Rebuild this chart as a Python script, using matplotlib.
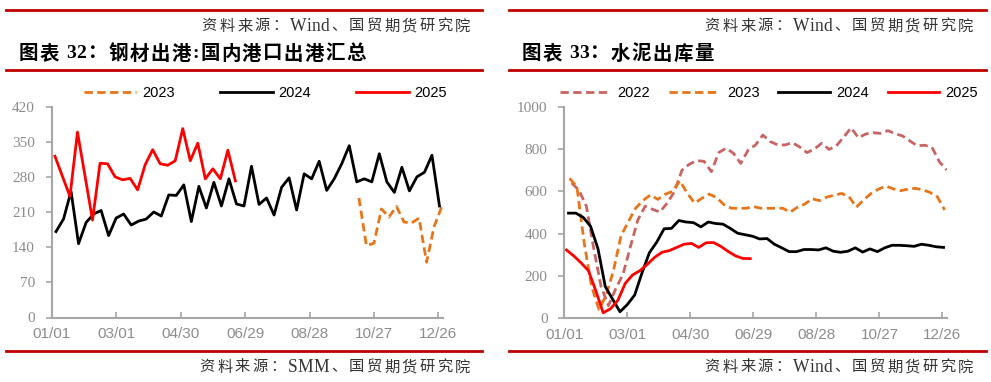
import matplotlib
matplotlib.use("Agg")
import matplotlib.pyplot as plt
from matplotlib.lines import Line2D
import pandas as pd

# ---------------- data ----------------
# Left chart: 钢材出港 (国内港口出港汇总), weekly, mapped onto a common calendar year
left_2023_start = "2023-10-14"
left_2023 = [238, 143, 148, 216, 200, 221, 190, 188, 198, 110, 181, 220]
left_2024_start = "2023-01-05"
left_2024 = [171, 196, 251, 147, 189, 206, 213, 163, 198, 206, 184, 192, 196, 210, 202,
             244, 243, 264, 191, 261, 218, 269, 222, 276, 226, 222, 301, 225, 238, 204,
             259, 278, 214, 286, 276, 311, 253, 276, 306, 342, 270, 276, 270, 326, 270,
             249, 299, 252, 280, 289, 323, 222]
left_2025_start = "2023-01-04"
left_2025 = [321, 281, 241, 369, 282, 194, 307, 306, 280, 274, 277, 254, 304, 334, 306,
             303, 312, 376, 312, 347, 276, 296, 276, 333, 272]

# Right chart: 水泥出库量, weekly
right_2022_start = "2023-01-08"
right_2022 = [640, 605, 530, 330, 150, 60, 140, 210, 340, 465, 530, 515, 502, 545, 600,
              700, 728, 745, 742, 693, 783, 804, 780, 732, 795, 819, 866, 835, 820, 819,
              830, 810, 783, 800, 827, 798, 815, 857, 900, 853, 871, 877, 874, 887, 872,
              862, 838, 815, 818, 808, 740, 701]
right_2023_start = "2023-01-06"
right_2023 = [661, 622, 354, 150, 42, 110, 230, 390, 457, 521, 557, 583, 562, 586, 600,
              650, 591, 545, 567, 587, 570, 537, 520, 520, 520, 528, 520, 520, 520, 520,
              502, 525, 540, 565, 556, 573, 582, 590, 575, 525, 560, 590, 610, 625, 612,
              603, 610, 614, 608, 595, 575, 512]
right_2024_start = "2023-01-05"
right_2024 = [497, 497, 477, 435, 330, 150, 90, 31, 65, 110, 215, 310, 360, 423, 425,
              462, 455, 452, 432, 455, 448, 445, 425, 402, 395, 388, 375, 377, 350, 333,
              315, 315, 325, 325, 323, 333, 317, 312, 317, 333, 313, 328, 315, 333, 345,
              345, 343, 340, 350, 345, 338, 335]
right_2025_start = "2023-01-03"
right_2025 = [323, 295, 262, 225, 130, 26, 45, 85, 165, 205, 225, 255, 288, 312, 320,
              335, 350, 354, 335, 357, 358, 340, 316, 295, 283, 282]

x_tick_labels = ["01/01", "03/01", "04/30", "06/29", "08/28", "10/27", "12/26"]
left_yticks = [0, 70, 140, 210, 280, 350, 420]
right_yticks = [0, 200, 400, 600, 800, 1000]

left_title = "图表 32：钢材出港:国内港口出港汇总"
right_title = "图表 33：水泥出库量"
src_wind = "资料来源：Wind、国贸期货研究院"
src_smm = "资料来源：SMM、国贸期货研究院"

# ---------------- style ----------------
C_ORANGE = "#E8751A"
C_ROSY = "#C86464"
C_BLACK = "#000000"
C_RED = "#FF0000"
C_BAR = "#C00000"
C_AXIS = "#A6A6A6"
C_TICK = "#8C8C8C"

CJK = ["Liberation Serif", "Noto Sans CJK SC", "DejaVu Sans"]

W, H = 991, 382
fig = plt.figure(figsize=(W / 100, H / 100), dpi=100)
renderer = fig.canvas.get_renderer()


def fx(px):
    return px / W


def fy(py):
    return 1 - py / H


def dates(start, n):
    return pd.date_range(start, periods=n, freq="7D")


def spaced_text(x_px, y_px, s, spacing, ha="left", latin_scale=1.0, **kw):
    """Draw text char by char with extra letter spacing around CJK characters."""
    base = kw.pop("fontsize", 10)
    sizes, widths = [], []
    for ch in s:
        size = base * (latin_scale if ch.isascii() and ch.isalpha() else 1.0)
        sizes.append(size)
        if ch == " ":
            widths.append(size * 1.389 * 0.3)
            continue
        t = fig.text(0, 0, ch, fontsize=size, **kw)
        widths.append(t.get_window_extent(renderer).width)
        t.remove()
    gaps = []
    for a, b in zip(s[:-1], s[1:]):
        gaps.append(0.0 if (a.isascii() and b.isascii()) else spacing)
    total = sum(widths) + sum(gaps)
    x = x_px - total if ha == "right" else x_px
    for i, (ch, w, size) in enumerate(zip(s, widths, sizes)):
        if ch != " ":
            fig.text(fx(x), fy(y_px), ch, ha="left", va="center", fontsize=size, **kw)
        x += w + (gaps[i] if i < len(gaps) else 0)


def setup_axes(ax, ylim, yticks):
    x0 = pd.Timestamp("2023-01-01")
    ax.set_xlim(x0, pd.Timestamp("2023-12-31"))
    ax.set_ylim(*ylim)
    ax.set_yticks(yticks)
    tick_dates = [x0 + pd.Timedelta(days=60 * i) for i in range(len(x_tick_labels))]
    ax.set_xticks(tick_dates)
    ax.set_xticklabels(x_tick_labels)
    for s in ["top", "right"]:
        ax.spines[s].set_visible(False)
    for s in ["left", "bottom"]:
        ax.spines[s].set_color(C_AXIS)
        ax.spines[s].set_linewidth(1.5)
    ax.tick_params(axis="y", direction="out", length=4, width=1.2, color=C_AXIS,
                   labelcolor=C_TICK, pad=8)
    ax.tick_params(axis="x", direction="in", length=4, width=1.2, color=C_AXIS,
                   labelcolor=C_TICK, pad=7)
    for lab in ax.get_yticklabels():
        lab.set_fontfamily("Liberation Serif")
        lab.set_fontsize(11)
    for lab in ax.get_xticklabels():
        lab.set_fontfamily("Liberation Sans")
        lab.set_fontsize(11)
    ax.set_facecolor("none")


LW = 2.0
DASH = (3, 1.6)

# ---------------- left chart ----------------
axL = fig.add_axes([fx(51.7), fy(317.5), fx(442.7 - 51.7), (317.5 - 106.5) / H])
l1, = axL.plot(dates(left_2023_start, len(left_2023)), left_2023, color=C_ORANGE, lw=LW,
               dashes=DASH, label="2023")
l2, = axL.plot(dates(left_2024_start, len(left_2024)), left_2024, color=C_BLACK, lw=LW,
               label="2024")
l3, = axL.plot(dates(left_2025_start, len(left_2025)), left_2025, color=C_RED, lw=LW,
               label="2025")
setup_axes(axL, (0, 420), left_yticks)
axL.legend(handles=[l1, l2, l3], loc="center", ncol=3, frameon=False,
           bbox_to_anchor=(fx(265.5), fy(93)), bbox_transform=fig.transFigure,
           prop={"family": "Liberation Sans", "size": 10.5},
           handlelength=3.6, handletextpad=0.4, columnspacing=3.1, borderpad=0,
           borderaxespad=0)

# ---------------- right chart ----------------
axR = fig.add_axes([fx(564.3), fy(318.3), fx(946.7 - 564.3), (318.3 - 106.7) / H])
r1, = axR.plot(dates(right_2022_start, len(right_2022)), right_2022, color=C_ROSY, lw=LW,
               dashes=DASH, label="2022")
r2, = axR.plot(dates(right_2023_start, len(right_2023)), right_2023, color=C_ORANGE, lw=LW,
               dashes=DASH, label="2023")
r3, = axR.plot(dates(right_2024_start, len(right_2024)), right_2024, color=C_BLACK, lw=LW,
               label="2024")
r4, = axR.plot(dates(right_2025_start, len(right_2025)), right_2025, color=C_RED, lw=LW,
               label="2025")
setup_axes(axR, (0, 1000), right_yticks)
axR.legend(handles=[r1, r2, r3, r4], loc="center", ncol=4, frameon=False,
           bbox_to_anchor=(fx(769), fy(93)), bbox_transform=fig.transFigure,
           prop={"family": "Liberation Sans", "size": 10.5},
           handlelength=3.5, handletextpad=0.45, columnspacing=1.3, borderpad=0,
           borderaxespad=0)

# ---------------- frame decorations ----------------
def hbar(x0, x1, y):
    fig.add_artist(Line2D([fx(x0), fx(x1)], [fy(y), fy(y)], color=C_BAR, lw=2.0,
                          transform=fig.transFigure))


for (a, b) in [(5.5, 482), (509, 986)]:
    hbar(a, b, 9.5)
    hbar(a, b, 70)
    hbar(a, b, 351)

src_kw = dict(family=CJK, fontsize=11, color="#333333")
spaced_text(470, 26.5, src_wind, 2.4, ha="right", latin_scale=1.15, **src_kw)
spaced_text(973, 26.5, src_wind, 2.4, ha="right", latin_scale=1.15, **src_kw)
spaced_text(470, 367.5, src_smm, 2.4, ha="right", latin_scale=1.15, **src_kw)
spaced_text(973, 367.5, src_wind, 2.4, ha="right", latin_scale=1.15, **src_kw)

title_kw = dict(family=CJK, fontsize=14, fontweight="bold", color="#000000")
spaced_text(19, 54, left_title, 1.4, ha="left", **title_kw)
spaced_text(521.5, 54, right_title, 1.4, ha="left", **title_kw)

fig.savefig("out.png", dpi=100)
